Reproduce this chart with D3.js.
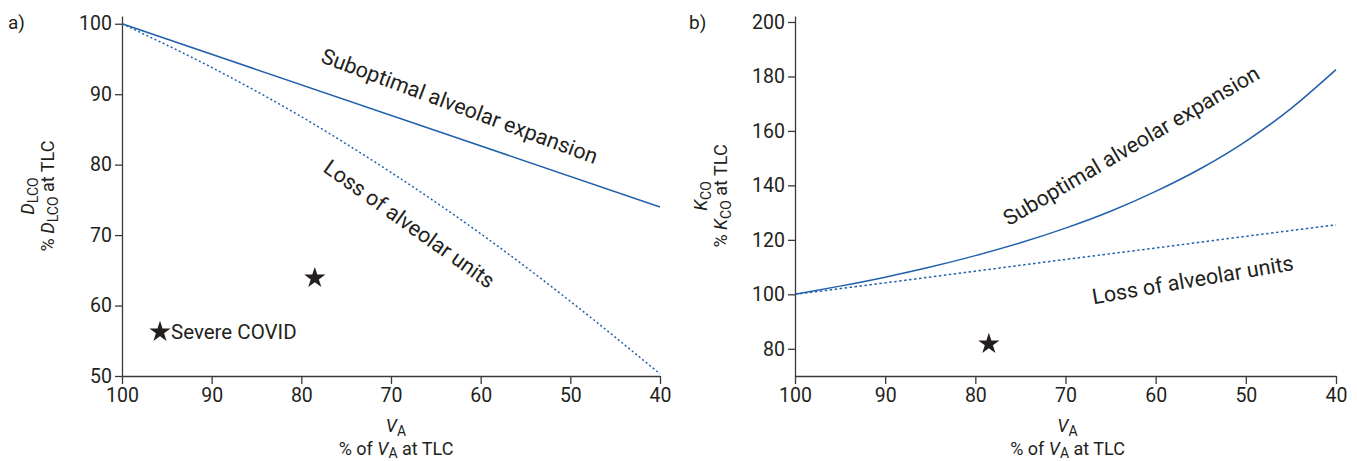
<!DOCTYPE html>
<html>
<head>
<meta charset="utf-8">
<script src="https://cdn.jsdelivr.net/npm/d3@7"></script>
<style>
  body { margin: 0; background: #fff; }
  svg { font-family: Roboto, "Noto Sans", sans-serif; }
  .axis path, .axis line { stroke: #3a3a3a; stroke-width: 1.3; }
  .axis text { font-size: 19.5px; fill: #231f20; font-family: Roboto, sans-serif; }
  .lbl { font-size: 18px; fill: #231f20; }
  .note { font-size: 21.5px; fill: #231f20; }
</style>
</head>
<body>
<svg id="chart" width="1357" height="461"></svg>
<script>
// V_A (% of V_A at TLC)
const vaTicks = [100, 90, 80, 70, 60, 50, 40];
const dlTicks = [100, 90, 80, 70, 60, 50];
const kcoTicks = [200, 180, 160, 140, 120, 100, 80];

// panel a: DLCO (% at TLC)
const dlSubVA = [100, 40];
const dlSubVal = [100, 74];
const dlLossVA = [100, 90, 80, 70, 60, 50, 40];
const dlLossVal = [100, 93.8, 86.8, 78.9, 70.2, 60.6, 50.3];

// panel b: KCO (% at TLC)
const kcoSubVA = [100, 95, 90, 85, 80, 75, 70, 65, 60, 55, 50, 45, 40];
const kcoSubVal = [100, 103.0, 106.3, 110.0, 114.2, 118.9, 124.3, 130.5, 137.8, 146.2, 156.2, 168.2, 182.5];
const kcoLossVA = [100, 90, 80, 70, 60, 50, 40];
const kcoLossVal = [100, 104.2, 108.5, 112.8, 117.0, 121.3, 125.5];

// Severe COVID point
const covidVA = 78.5;
const covidDL = 63.9;
const covidKCO = 81.8;

const blue = '#2260ab';
const svg = d3.select('#chart');
const star = d3.symbol().type(d3.symbolStar).size(140);

function panel(opts) {
    const x = d3.scaleLinear().domain([100, 40]).range(opts.xr);
    const y = d3.scaleLinear().domain(opts.yd).range([376, 16]);
    const g = svg.append('g');

    g.append('g').attr('class', 'axis')
        .attr('transform', 'translate(0,376)')
        .call(d3.axisBottom(x).tickValues(vaTicks).tickSize(8).tickSizeOuter(0).tickPadding(4));
    g.append('g').attr('class', 'axis')
        .attr('transform', `translate(${opts.xr[0]},0)`)
        .call(d3.axisLeft(y).tickValues(opts.yTicks).tickSize(7).tickSizeOuter(0).tickPadding(3));

    const line = d3.line().x(d => x(d[0])).y(d => y(d[1])).curve(d3.curveMonotoneX);

    g.append('path')
        .datum(d3.zip(opts.subVA, opts.subVal))
        .attr('d', line)
        .attr('fill', 'none').attr('stroke', blue).attr('stroke-width', 1.5);
    g.append('path')
        .datum(d3.zip(opts.lossVA, opts.lossVal))
        .attr('d', line)
        .attr('fill', 'none').attr('stroke', blue).attr('stroke-width', 1.5)
        .attr('stroke-dasharray', opts.dash);

    g.append('path')
        .attr('d', star)
        .attr('transform', `translate(${x(covidVA)},${y(opts.covid)})`)
        .attr('fill', '#231f20');

    // panel letter
    g.append('text').attr('class', 'lbl').style('font-size', '19px')
        .attr('x', opts.letterX).attr('y', 29).text(opts.letter);

    // x label
    const cx = (opts.xr[0] + opts.xr[1]) / 2 + opts.xlShift;
    const t1 = g.append('text').attr('class', 'lbl')
        .attr('x', cx).attr('y', 432).attr('text-anchor', 'middle');
    t1.append('tspan').attr('font-style', 'italic').text('V');
    t1.append('tspan').attr('font-size', 14).attr('dy', 4).text('A');
    const t2 = g.append('text').attr('class', 'lbl')
        .attr('x', cx).attr('y', 455).attr('text-anchor', 'middle');
    t2.append('tspan').text('% of ');
    t2.append('tspan').attr('font-style', 'italic').text('V');
    t2.append('tspan').attr('font-size', 14).attr('dy', 3).text('A');
    t2.append('tspan').attr('dy', -3).text(' at TLC');

    // y label
    const yl = g.append('g').attr('transform', `translate(${opts.ylx},196) rotate(-90)`);
    const y1 = yl.append('text').attr('class', 'lbl').attr('text-anchor', 'middle').attr('y', 0);
    y1.append('tspan').attr('font-style', 'italic').text(opts.ySym);
    y1.append('tspan').attr('font-size', 14).attr('dy', 4).text(opts.ySub);
    const y2 = yl.append('text').attr('class', 'lbl').attr('text-anchor', 'middle').attr('y', 20);
    y2.append('tspan').text('% ');
    y2.append('tspan').attr('font-style', 'italic').text(opts.ySym);
    y2.append('tspan').attr('font-size', 14).attr('dy', 4).text(opts.ySub);
    y2.append('tspan').attr('dy', -4).text(' at TLC');

    // annotations along the curves
    opts.notes.forEach(n => {
        g.append('text').attr('class', 'note')
            .attr('text-anchor', 'middle')
            .attr('transform', `translate(${n.x},${n.y}) rotate(${n.a})`)
            .text(n.t);
    });
    return { x, y, g };
}

const a = panel({
    xr: [122, 660], yd: [50, 101.1], yTicks: dlTicks,
    subVA: dlSubVA, subVal: dlSubVal, lossVA: dlLossVA, lossVal: dlLossVal,
    covid: covidDL, letter: 'a)', letterX: 8, ylx: 34, dash: '2,2.5', xlShift: 5,
    ySym: 'D', ySub: 'LCO',
    notes: [
        { t: 'Suboptimal alveolar expansion', x: 457, y: 113, a: 20.4 },
        { t: 'Loss of alveolar units', x: 405, y: 230, a: 35.5 }
    ]
});

const b = panel({
    xr: [795, 1336], yd: [70, 202.2], yTicks: kcoTicks,
    subVA: kcoSubVA, subVal: kcoSubVal, lossVA: kcoLossVA, lossVal: kcoLossVal,
    covid: covidKCO, letter: 'b)', letterX: 689, ylx: 707, dash: '2.5,2.5', xlShift: 2,
    ySym: 'K', ySub: 'CO',
    notes: [
        { t: 'Suboptimal alveolar expansion', x: 1135, y: 152, a: -30.5 },
        { t: 'Loss of alveolar units', x: 1194, y: 287, a: -9.7 }
    ]
});

// legend in panel a
a.g.append('path').attr('d', star)
    .attr('transform', 'translate(160,332)').attr('fill', '#231f20');
a.g.append('text').attr('class', 'note').style('font-size', '20.5px')
    .attr('x', 171).attr('y', 339).text('Severe COVID');
</script>
</body>
</html>
